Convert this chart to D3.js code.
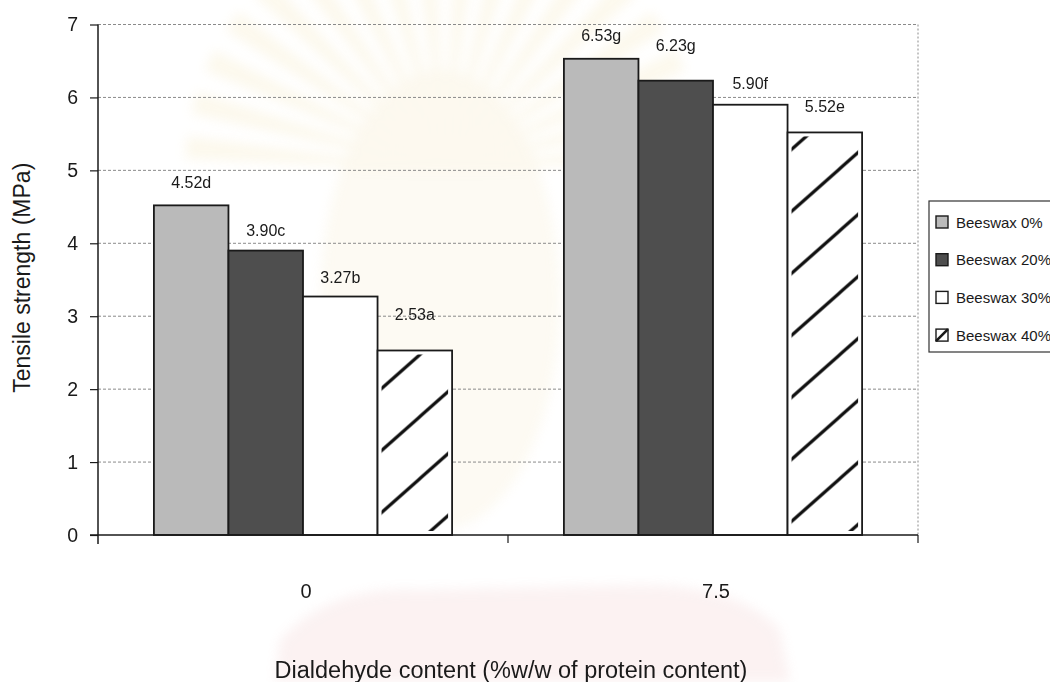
<!DOCTYPE html>
<html>
<head>
<meta charset="utf-8">
<script src="https://cdn.jsdelivr.net/npm/d3@7"></script>
<style>
  html, body { margin: 0; padding: 0; background: #fff; }
  svg { display: block; font-family: "Liberation Sans", Arial, sans-serif; }
</style>
</head>
<body>
<svg id="chart" width="1050" height="682"></svg>
<script>
// ---- data ----
const categories = ["0", "7.5"];
const seriesNames = ["Beeswax 0%", "Beeswax 20%", "Beeswax 30%", "Beeswax 40%"];
const valuesAt0 = [4.52, 3.90, 3.27, 2.53];
const valuesAt75 = [6.53, 6.23, 5.90, 5.52];
const lettersAt0 = ["d", "c", "b", "a"];
const lettersAt75 = ["g", "g", "f", "e"];
const yTickValues = [0, 1, 2, 3, 4, 5, 6, 7];

const values = [valuesAt0, valuesAt75];
const letters = [lettersAt0, lettersAt75];

// ---- layout ----
const W = 1050, H = 682;
const plot = { left: 98, right: 918, top: 24.5, bottom: 535 };
// extra lift of each value label above its bar (px)
const labelLift = [[17, 15, 14, 30], [18, 30, 16, 20]];
const fills = ["#bababa", "#4e4e4e", "#ffffff", "#ffffff"];
const ink = "#1a1a1a";

const svg = d3.select("#chart");
svg.append("rect").attr("width", W).attr("height", H).attr("fill", "#fff");

const defs = svg.append("defs");
defs.append("filter").attr("id", "soft")
  .attr("x", "-20%").attr("y", "-20%").attr("width", "140%").attr("height", "140%")
  .append("feGaussianBlur").attr("stdDeviation", 6);

// faint watermark emblem behind the chart
const wm = svg.append("g").attr("filter", "url(#soft)").attr("opacity", 0.45);
const rayCx = 445, rayCy = 170;
const rayAngles = d3.range(-175, 5, 10);
wm.selectAll("path.ray").data(rayAngles).join("path")
  .attr("d", a => {
    const r = 260, a0 = (a - 2.5) * Math.PI / 180, a1 = (a + 2.5) * Math.PI / 180;
    return `M${rayCx},${rayCy}L${rayCx + r * Math.cos(a0)},${rayCy + r * Math.sin(a0)}` +
           `L${rayCx + r * Math.cos(a1)},${rayCy + r * Math.sin(a1)}Z`;
  })
  .attr("fill", "#f3e3b0").attr("opacity", 0.5);
wm.append("ellipse").attr("cx", 440).attr("cy", 300).attr("rx", 120).attr("ry", 230)
  .attr("fill", "#f7ecd0").attr("opacity", 0.6);
wm.append("path")
  .attr("d", "M280,640 Q330,585 420,590 L640,585 Q740,585 780,630 L790,682 L275,682 Z")
  .attr("fill", "#f2cfcf").attr("opacity", 0.6);

// ---- scales ----
const x = d3.scaleBand().domain(categories).range([plot.left, plot.right]).paddingInner(0).paddingOuter(0);
const xs = d3.scaleBand().domain(d3.range(seriesNames.length)).range([0, x.bandwidth()])
  .paddingInner(0).paddingOuter(0.75);
const y = d3.scaleLinear().domain([0, 7]).range([plot.bottom, plot.top]);

// ---- hatch pattern ----
const pat = defs.append("pattern").attr("id", "hatch")
  .attr("patternUnits", "userSpaceOnUse")
  .attr("x", 0).attr("y", 44.5).attr("width", 70).attr("height", 62);
pat.append("path")
  .attr("d", "M0,62L70,0 M-70,62L70,-62 M0,124L140,0")
  .attr("stroke", "#111").attr("stroke-width", 3.2).attr("fill", "none");

// ---- gridlines ----
svg.append("g").selectAll("line").data(yTickValues.filter(v => v > 0)).join("line")
  .attr("x1", plot.left).attr("x2", plot.right)
  .attr("y1", d => y(d)).attr("y2", d => y(d))
  .attr("stroke", "#8a8a8a").attr("stroke-width", 1).attr("stroke-dasharray", "3,2");
// right border of the plot area
svg.append("line").attr("x1", plot.right).attr("x2", plot.right)
  .attr("y1", plot.top).attr("y2", plot.bottom)
  .attr("stroke", "#8a8a8a").attr("stroke-width", 1).attr("stroke-dasharray", "2,2");

// ---- bars ----
const barData = [];
categories.forEach((c, ci) => {
  values[ci].forEach((v, si) => {
    barData.push({ c, ci, si, v, label: v.toFixed(2) + letters[ci][si] });
  });
});

const bars = svg.append("g");
bars.selectAll("rect.bar").data(barData).join("rect")
  .attr("class", "bar")
  .attr("x", d => x(d.c) + xs(d.si))
  .attr("y", d => y(d.v))
  .attr("width", xs.bandwidth())
  .attr("height", d => y(0) - y(d.v))
  .attr("fill", d => fills[d.si])
  .attr("stroke", ink).attr("stroke-width", 1.8);
const inset = 4;
bars.selectAll("rect.hatch").data(barData.filter(d => d.si === 3)).join("rect")
  .attr("class", "hatch")
  .attr("x", d => x(d.c) + xs(d.si) + inset)
  .attr("y", d => y(d.v) + inset)
  .attr("width", xs.bandwidth() - 2 * inset)
  .attr("height", d => y(0) - y(d.v) - 2 * inset)
  .attr("fill", "url(#hatch)");

// value labels
svg.append("g").selectAll("text").data(barData).join("text")
  .attr("x", d => x(d.c) + xs(d.si) + xs.bandwidth() / 2)
  .attr("y", d => y(d.v) - labelLift[d.ci][d.si])
  .attr("text-anchor", "middle")
  .attr("font-size", 16).attr("fill", ink)
  .text(d => d.label);

// ---- axes ----
const yAxis = d3.axisLeft(y).tickValues(yTickValues).tickSize(8).tickPadding(12).tickFormat(d3.format("d"));
const gy = svg.append("g").attr("transform", `translate(${plot.left},0)`).call(yAxis);
gy.select(".domain").attr("stroke", ink).attr("stroke-width", 1.5).attr("d", `M0,${plot.top}V${plot.bottom + 9}`);
gy.selectAll(".tick line").attr("stroke", ink).attr("stroke-width", 1.2);
gy.selectAll(".tick text").attr("font-size", 19.5).attr("fill", ink).attr("font-family", null);

// x axis: baseline plus ticks at category boundaries
const gx = svg.append("g");
gx.append("line").attr("x1", plot.left - 8).attr("x2", plot.right)
  .attr("y1", y(0)).attr("y2", y(0)).attr("stroke", ink).attr("stroke-width", 1.5);
const boundaries = categories.map(c => x(c)).concat([x(categories[categories.length - 1]) + x.bandwidth()]);
gx.selectAll("line.bt").data(boundaries.slice(1)).join("line")
  .attr("class", "bt")
  .attr("x1", d => d).attr("x2", d => d)
  .attr("y1", y(0)).attr("y2", y(0) + 8)
  .attr("stroke", ink).attr("stroke-width", 1.2);
gx.selectAll("text").data(categories).join("text")
  .attr("x", d => x(d) + x.bandwidth() / 2 + 3)
  .attr("y", 598)
  .attr("text-anchor", "middle")
  .attr("font-size", 20).attr("fill", ink)
  .text(d => d);

// axis titles
svg.append("text")
  .attr("x", (plot.left + plot.right) / 2 + 3).attr("y", 678)
  .attr("text-anchor", "middle").attr("font-size", 23.5).attr("fill", ink)
  .text("Dialdehyde content (%w/w of protein content)");
svg.append("text")
  .attr("transform", `translate(30,${(plot.top + plot.bottom) / 2 - 2}) rotate(-90)`)
  .attr("text-anchor", "middle").attr("font-size", 23).attr("fill", ink)
  .text("Tensile strength (MPa)");

// ---- legend ----
const lg = svg.append("g").attr("transform", "translate(929,201)");
lg.append("rect").attr("x", 0).attr("y", 0).attr("width", 140).attr("height", 151)
  .attr("fill", "#fff").attr("stroke", "#333").attr("stroke-width", 1.2);
const rows = lg.selectAll("g.row").data(seriesNames).join("g")
  .attr("class", "row")
  .attr("transform", (d, i) => `translate(7,${21 + i * 37.7})`);
rows.append("rect").attr("x", 0).attr("y", -6).attr("width", 12).attr("height", 12)
  .attr("fill", (d, i) => fills[i]).attr("stroke", ink).attr("stroke-width", 1.4);
rows.filter((d, i) => i === 3).append("line")
  .attr("x1", 0).attr("y1", 6).attr("x2", 12).attr("y2", -6)
  .attr("stroke", ink).attr("stroke-width", 2.6);
rows.append("text").attr("x", 20).attr("y", 5.5)
  .attr("font-size", 15).attr("fill", ink)
  .text(d => d);
</script>
</body>
</html>
